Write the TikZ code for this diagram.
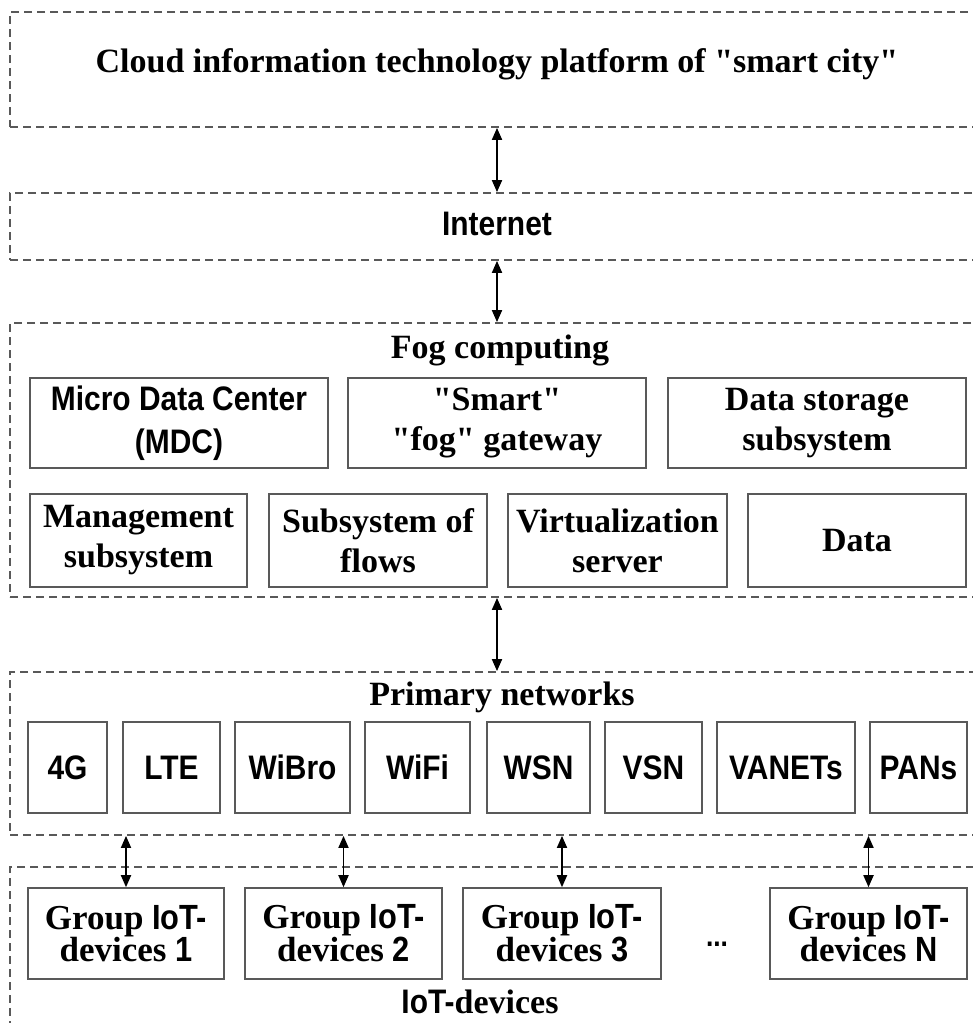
\documentclass[tikz,border=0pt]{standalone}
\usepackage{fontspec}
\setmainfont{Liberation Serif}
\newfontfamily\armfont[FakeStretch=0.88]{Liberation Sans}
\newcommand{\sansbf}[1]{{\armfont\bfseries #1}}
\newcommand{\qt}{\textquotedbl}
\usetikzlibrary{arrows.meta,fit}

\begin{document}
\begin{tikzpicture}[x=1pt,y=-1pt,
    layer/.style={draw=black!65, line width=1.8pt, dash pattern=on 8pt off 5pt, inner sep=0pt},
    unit/.style={draw=black!65, line width=1.6pt, inner sep=0pt, align=center,
      font=\bfseries\fontsize{34}{40}\selectfont},
    fogunit/.style={unit, minimum height=90pt},
    lowunit/.style={unit, minimum height=93pt},
    netunit/.style={unit, minimum height=91pt, font=\armfont\bfseries\fontsize{34}{40}\selectfont},
    group/.style={unit, minimum height=91pt, font=\bfseries\fontsize{35}{28}\selectfont},
    title/.style={anchor=base, font=\bfseries\fontsize{34}{40}\selectfont},
    link/.style={{Triangle[length=12pt,width=10pt]}-{Triangle[length=12pt,width=10pt]}, line width=1.8pt}]
    \clip (0,0) rectangle (973,1023);

    \node[layer, fit={(10,12) (984,127)}] (cloud) {};
    \node[title] (cloudtitle) at (497,72) {Cloud information technology platform of \qt smart city\qt};

    \node[layer, fit={(10,193) (984,260)}] (inet) {};
    \node[title, font=\armfont\bfseries\fontsize{34}{40}\selectfont] (inettitle) at (497,235) {Internet};

    \node[layer, fit={(10,323) (984,597)}] (fog) {};
    \node[title] (fogtitle) at (500,358) {Fog computing};
    \node[fogunit, minimum width=298pt, font=\armfont\bfseries\fontsize{34}{43}\selectfont] (mdc) at (179,423) {Micro Data Center\\(MDC)};
    \node[fogunit, minimum width=298pt] (gateway) at (497,423) {\qt Smart\qt\\\qt fog\qt{} gateway};
    \node[fogunit, minimum width=298pt] (storage) at (817,423) {Data storage\\subsystem};
    \node[lowunit, minimum width=217pt] (mgmt) at (138.5,540.5) {Management\\subsystem};
    \node[lowunit, minimum width=218pt] (flows) at (378,540.5) {Subsystem of\\flows};
    \node[lowunit, minimum width=219pt] (virt) at (617.5,540.5) {Virtualization\\server};
    \node[lowunit, minimum width=218pt] (data) at (857,540.5) {Data};

    \node[layer, fit={(10,672) (984,835)}] (prim) {};
    \node[title] (primtitle) at (502,705) {Primary networks};
    \node[netunit, minimum width=79pt] (n4g) at (67.5,767.5) {4G};
    \node[netunit, minimum width=97pt] (lte) at (171.5,767.5) {LTE};
    \node[netunit, minimum width=115pt] (wibro) at (292.5,767.5) {WiBro};
    \node[netunit, minimum width=105pt] (wifi) at (417.5,767.5) {WiFi};
    \node[netunit, minimum width=103pt] (wsn) at (538.5,767.5) {WSN};
    \node[netunit, minimum width=97pt] (vsn) at (653.5,767.5) {VSN};
    \node[netunit, minimum width=138pt] (vanets) at (786,767.5) {VANETs};
    \node[netunit, minimum width=97pt] (pans) at (918.5,767.5) {PANs};

    \node[layer, fit={(10,867) (984,1040)}] (iot) {};
    \node[group, minimum width=196pt] (g1) at (126,933.5) {Group \sansbf{IoT-}\\devices \sansbf{1}};
    \node[group, minimum width=197pt] (g2) at (343.5,933.5) {Group \sansbf{IoT-}\\devices \sansbf{2}};
    \node[group, minimum width=198pt] (g3) at (562,933.5) {Group \sansbf{IoT-}\\devices \sansbf{3}};
    \node[group, minimum width=197pt] (gN) at (868.5,933.5) {Group \sansbf{IoT-}\\devices \sansbf{N}};
    \node[title, font=\armfont\bfseries\fontsize{30}{40}\selectfont] (dots) at (717,946) {...};
    \node[title] (iottitle) at (480,1013) {\sansbf{IoT-}devices};

    \draw[link] (cloud.south) -- (inet.north);
    \draw[link] (inet.south) -- (fog.north);
    \draw[link] (fog.south) -- (prim.north);
    \foreach \g in {g1,g2,g3,gN}
      \draw[link] (\g.north |- prim.south) -- (\g.north);
\end{tikzpicture}
\end{document}
